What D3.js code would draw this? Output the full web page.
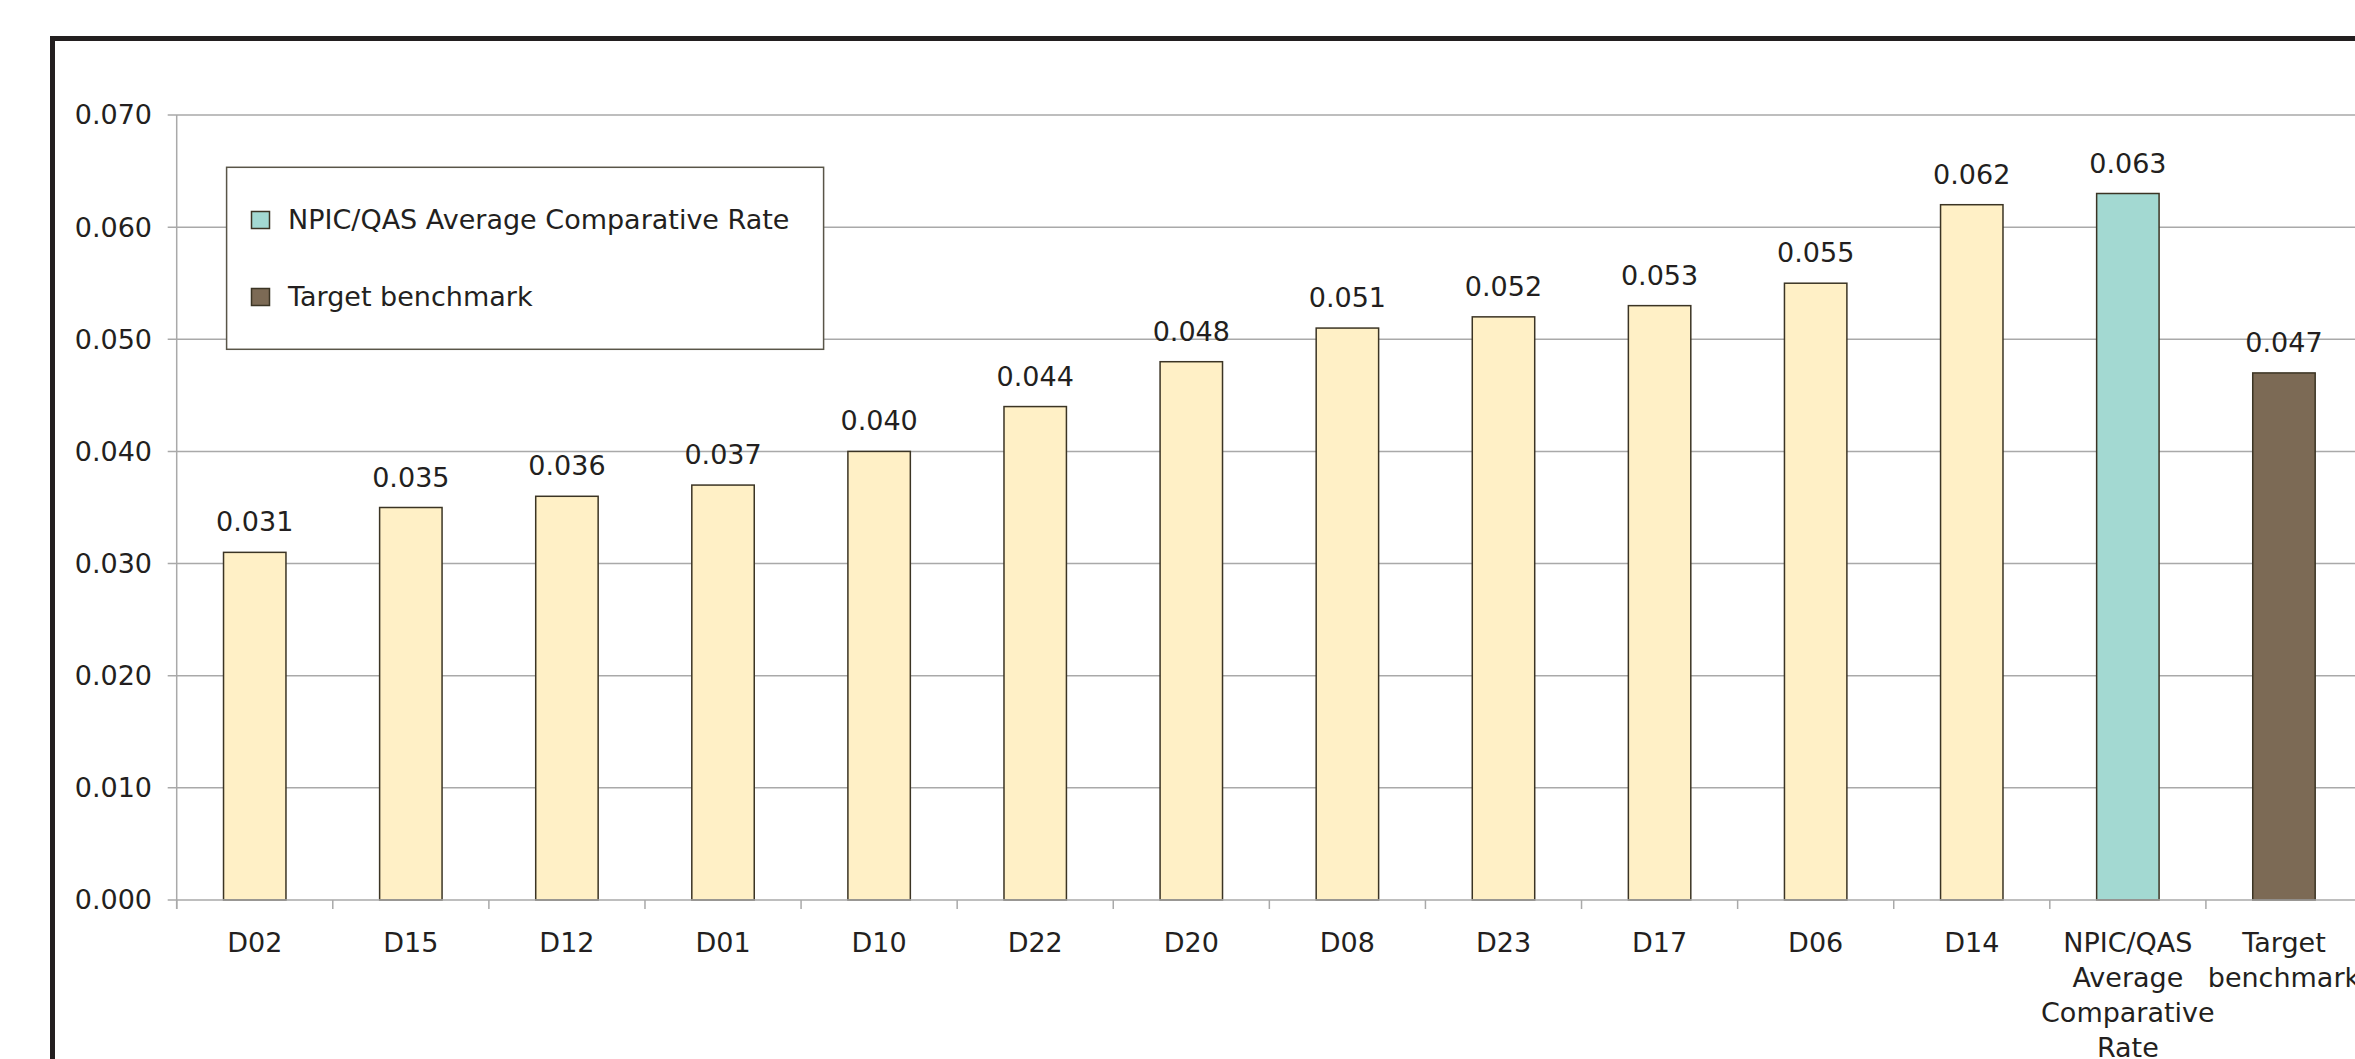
<!DOCTYPE html>
<html>
<head>
<meta charset="utf-8">
<script src="https://cdn.jsdelivr.net/npm/d3@7"></script>
<style>
  html, body { margin: 0; padding: 0; background: #ffffff; }
  svg { display: block; }
  text { font-family: "DejaVu Sans", sans-serif; fill: #231f20; }
</style>
</head>
<body>
<svg id="chart" width="2355" height="1059"></svg>
<script>
// Categories (districts, then the two reference bars)
const categories = ["D02", "D15", "D12", "D01", "D10", "D22", "D20", "D08", "D23", "D17", "D06", "D14",
                    "NPIC/QAS Average Comparative Rate", "Target benchmark"];
// Rate per category
const rates = [0.031, 0.035, 0.036, 0.037, 0.040, 0.044, 0.048, 0.051, 0.052, 0.053, 0.055, 0.062, 0.063, 0.047];
// Bar group of each category: district, average, benchmark
const groups = ["district", "district", "district", "district", "district", "district", "district", "district",
                "district", "district", "district", "district", "average", "benchmark"];
// Y axis tick values
const yTicks = [0.000, 0.010, 0.020, 0.030, 0.040, 0.050, 0.060, 0.070];
// Legend entries
const legendLabels = ["NPIC/QAS Average Comparative Rate", "Target benchmark"];
const legendGroups = ["average", "benchmark"];

const fills = { district: "#fff0c6", average: "#a3d9d2", benchmark: "#7c6a55" };
const barStroke = "#3b3424";
const gridColor = "#a9a9a9";

const data = categories.map((c, i) => ({ cat: c, value: rates[i], group: groups[i] }));

const svg = d3.select("#chart");

const plot = { left: 176.7, right: 2362, top: 115, bottom: 900 };

const x = d3.scaleBand()
  .domain(categories)
  .range([plot.left, plot.right])
  .paddingInner(0.6)
  .paddingOuter(0.3);

const y = d3.scaleLinear()
  .domain([0, 0.07])
  .range([plot.bottom, plot.top]);

const step = x.step();

// Outer frame of the chart area
svg.append("rect")
  .attr("x", 52.5).attr("y", 38.5)
  .attr("width", 2400).attr("height", 1100)
  .attr("fill", "none")
  .attr("stroke", "#231f20")
  .attr("stroke-width", 5);

// Horizontal gridlines with short outward ticks
svg.append("g").selectAll("line")
  .data(yTicks.filter(d => d > 0))
  .join("line")
  .attr("x1", plot.left - 9).attr("x2", 2400)
  .attr("y1", d => y(d)).attr("y2", d => y(d))
  .attr("stroke", gridColor).attr("stroke-width", 1.5);

// Y axis line
svg.append("line")
  .attr("x1", plot.left).attr("x2", plot.left)
  .attr("y1", y(0.07)).attr("y2", plot.bottom + 9)
  .attr("stroke", gridColor).attr("stroke-width", 1.5);

// Y tick labels
svg.append("g").selectAll("text")
  .data(yTicks)
  .join("text")
  .attr("x", 152)
  .attr("y", d => y(d))
  .attr("dy", "0.35em")
  .attr("text-anchor", "end")
  .attr("font-size", 27)
  .text(d => d3.format(".3f")(d));

// Bars
svg.append("g").selectAll("rect")
  .data(data)
  .join("rect")
  .attr("x", d => x(d.cat))
  .attr("y", d => y(d.value))
  .attr("width", x.bandwidth())
  .attr("height", d => y(0) - y(d.value))
  .attr("fill", d => fills[d.group])
  .attr("stroke", barStroke)
  .attr("stroke-width", 1.5);

// X axis baseline and category boundary ticks
svg.append("line")
  .attr("x1", plot.left - 9).attr("x2", 2400)
  .attr("y1", plot.bottom).attr("y2", plot.bottom)
  .attr("stroke", gridColor).attr("stroke-width", 1.5);

svg.append("g").selectAll("line")
  .data(d3.range(categories.length + 1))
  .join("line")
  .attr("x1", i => plot.left + i * step).attr("x2", i => plot.left + i * step)
  .attr("y1", plot.bottom).attr("y2", plot.bottom + 9)
  .attr("stroke", gridColor).attr("stroke-width", 1.5);

// Value labels above bars
svg.append("g").selectAll("text")
  .data(data)
  .join("text")
  .attr("x", d => x(d.cat) + x.bandwidth() / 2)
  .attr("y", d => y(d.value) - 21)
  .attr("text-anchor", "middle")
  .attr("font-size", 27)
  .text(d => d3.format(".3f")(d.value));

// Category labels, wrapped to the slot width
const catLabels = svg.append("g").selectAll("text")
  .data(data)
  .join("text")
  .attr("x", d => x(d.cat) + x.bandwidth() / 2)
  .attr("y", 952)
  .attr("text-anchor", "middle")
  .attr("font-size", 27);

catLabels.each(function(d) {
  const t = d3.select(this);
  const cx = x(d.cat) + x.bandwidth() / 2;
  const words = d.cat.split(" ");
  let line = [];
  let lineNo = 0;
  let tspan = t.append("tspan").attr("x", cx).attr("y", 952);
  words.forEach(w => {
    line.push(w);
    tspan.text(line.join(" "));
    if (tspan.node().getComputedTextLength() > step - 4 && line.length > 1) {
      line.pop();
      tspan.text(line.join(" "));
      line = [w];
      lineNo += 1;
      tspan = t.append("tspan").attr("x", cx).attr("y", 952 + lineNo * 35).text(w);
    }
  });
});

// Legend
const legend = svg.append("g");
legend.append("rect")
  .attr("x", 226.6).attr("y", 167.3)
  .attr("width", 597).attr("height", 182)
  .attr("fill", "#ffffff")
  .attr("stroke", "#595548")
  .attr("stroke-width", 1.5);

const legendRows = legend.selectAll("g")
  .data(legendLabels.map((l, i) => ({ label: l, group: legendGroups[i] })))
  .join("g")
  .attr("transform", (d, i) => `translate(0, ${i * 77})`);

legendRows.append("rect")
  .attr("x", 251.5).attr("y", 211.5)
  .attr("width", 18).attr("height", 17)
  .attr("fill", d => fills[d.group])
  .attr("stroke", barStroke)
  .attr("stroke-width", 1.5);

legendRows.append("text")
  .attr("x", 288)
  .attr("y", 229)
  .attr("font-size", 27)
  .text(d => d.label);
</script>
</body>
</html>
